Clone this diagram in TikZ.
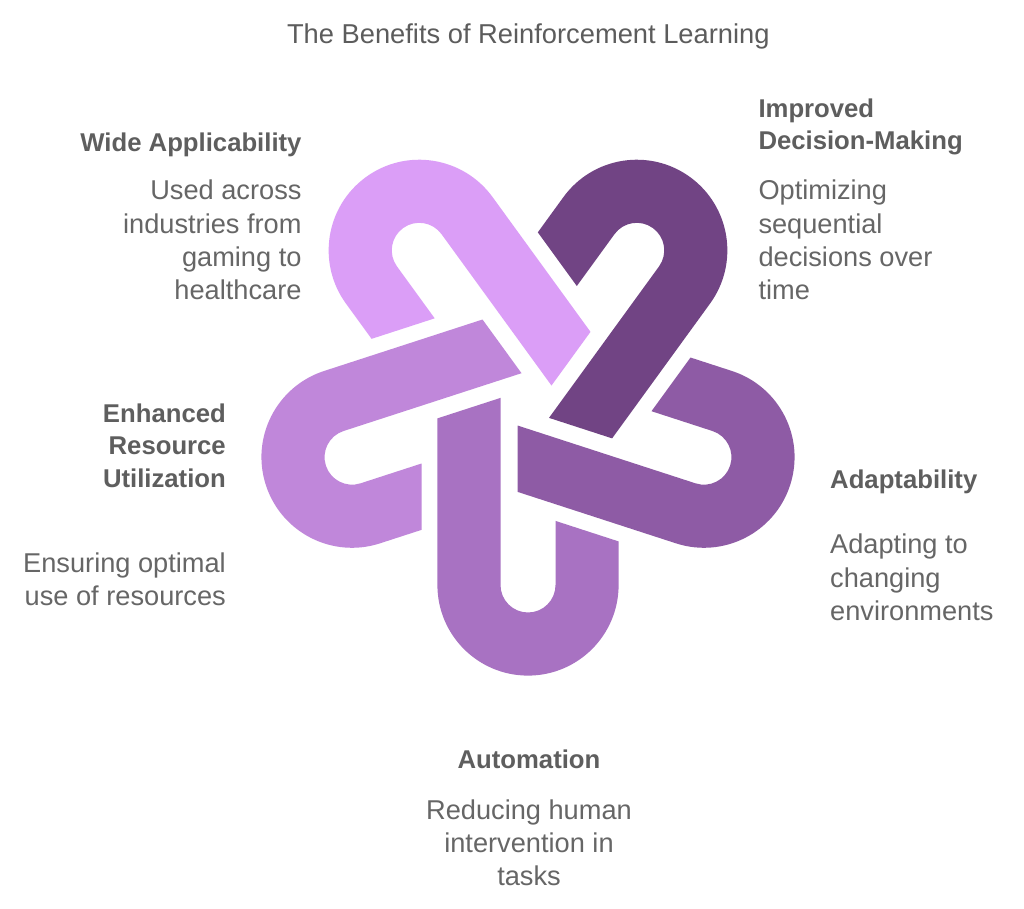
\documentclass[tikz,border=0pt]{standalone}
\usepackage{fontspec}
\setmainfont{Liberation Sans}
\definecolor{cAuto}{HTML}{A872C2}
\definecolor{cAdapt}{HTML}{8E5BA5}
\definecolor{cImpr}{HTML}{714484}
\definecolor{cWide}{HTML}{DB9EF7}
\definecolor{cEnh}{HTML}{C087DA}
\definecolor{cTitle}{HTML}{5C5C5C}
\definecolor{cHead}{HTML}{5E5E5E}
\definecolor{cBody}{HTML}{666666}
\newcommand{\rin}{27.5}
\newcommand{\rout}{90.6}
\newcommand{\dist}{185}
\newcommand{\cone}{10.5}
\newcommand{\ctwo}{106.5}
\begin{document}
\begin{tikzpicture}[x=1pt,y=1pt,
  ttl/.style={inner sep=0pt, font=\fontsize{27.3}{33}\selectfont, text=cTitle},
  hd/.style={inner sep=0pt, font=\fontsize{25.7}{32.7}\selectfont\bfseries, text=cHead},
  bd/.style={inner sep=0pt, font=\fontsize{27.2}{33.3}\selectfont, text=cBody}]
\fill[white] (0,0) rectangle (1024,908);
\useasboundingbox (0,0) rectangle (1024,908);
\foreach \ang/\col in {0/cAuto,72/cAdapt,144/cImpr,216/cWide,288/cEnh}{
  \begin{scope}[shift={(528,508)},rotate=\ang]
    \fill[\col] ({-\rout},{(-\rout*cos(72)+\cone)/sin(72)})
      -- ({-\rin},{(-\rin*cos(72)+\cone)/sin(72)})
      -- ({-\rin},{-\dist})
      arc[start angle=180, end angle=360, radius=\rin pt]
      -- ({\rin},{(-\ctwo-\rin*cos(72))/sin(72)})
      -- ({\rout},{(-\ctwo-\rout*cos(72))/sin(72)})
      -- ({\rout},{-\dist})
      arc[start angle=0, end angle=-180, radius=\rout pt]
      -- cycle;
  \end{scope}
}
% multi-line nodes: base anchor = baseline of the last line
\node[ttl, anchor=base] (title) at (528.3,864.7) {The Benefits of Reinforcement Learning};
\node[hd, anchor=base east] (hWide) at (301.7,756.3) {Wide Applicability};
\node[bd, anchor=base east, align=right] (tWide) at (301.7,608.3) {Used across\\industries from\\gaming to\\healthcare};
\node[hd, anchor=base west, align=left] (hImp) at (758.3,758) {Improved\\Decision-Making};
\node[bd, anchor=base west, align=left] (tImp) at (758.3,608.2) {Optimizing\\sequential\\decisions over\\time};
\node[hd, anchor=base east, align=right] (hEnh) at (226,420.3) {Enhanced\\Resource\\Utilization};
\node[bd, anchor=base east, align=right] (tEnh) at (226,302.3) {Ensuring optimal\\use of resources};
\node[hd, anchor=base west] (hAd) at (830,419.7) {Adaptability};
\node[bd, anchor=base west, align=left] (tAd) at (830,287.5) {Adapting to\\changing\\environments};
\node[hd, anchor=base] (hAu) at (529,139.7) {Automation};
\node[bd, anchor=base, align=center] (tAu) at (529,22.3) {Reducing human\\intervention in\\tasks};
\end{tikzpicture}
\end{document}
